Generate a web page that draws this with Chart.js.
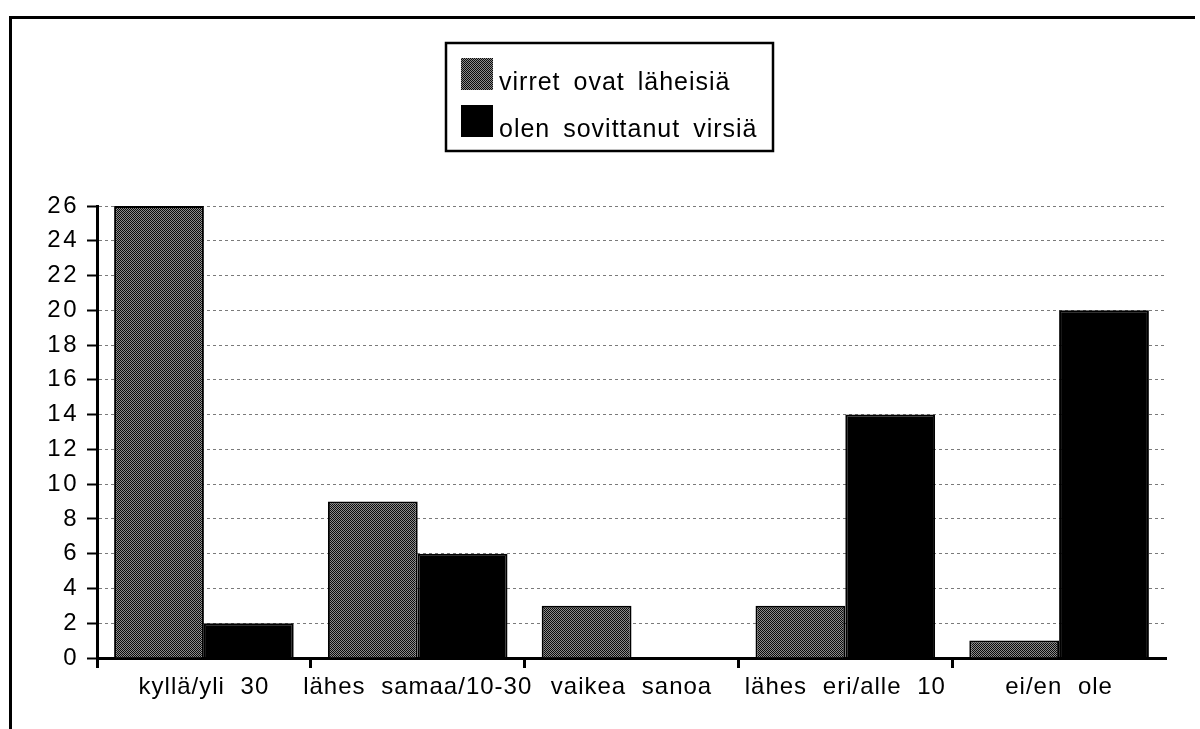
<!DOCTYPE html>
<html>
<head>
<meta charset="utf-8">
<title>virret</title>
<script src="https://cdn.jsdelivr.net/npm/chart.js@4.4.1/dist/chart.umd.min.js"></script>
<style>
  html, body { margin: 0; padding: 0; background: #fff; }
  #wrap { position: relative; width: 1200px; height: 729px; overflow: hidden; }
  #frame { position: absolute; left: 9px; top: 16px; width: 1183px; height: 720px;
           border-top: 3px solid #000; border-left: 3px solid #000; }
  #chart { position: absolute; left: 0; top: 0; }
</style>
</head>
<body>
<div id="wrap">
  <div id="frame"></div>
  <canvas id="chart" width="1200" height="729"></canvas>
</div>
<script>
// Data
const categories = ['kyllä/yli 30', 'lähes samaa/10-30', 'vaikea sanoa', 'lähes eri/alle 10', 'ei/en ole'];
const seriesNames = ['virret ovat läheisiä', 'olen sovittanut virsiä'];
const closeValues = [26, 9, 3, 3, 1];
const arrangedValues = [2, 6, 0, 14, 20];
const yTicks = [0, 2, 4, 6, 8, 10, 12, 14, 16, 18, 20, 22, 24, 26];

const FONT = '"Liberation Sans", Arial, Helvetica, sans-serif';

// old printer style dithered gray
function ditherPattern() {
    const c = document.createElement('canvas');
    c.width = 2; c.height = 2;
    const g = c.getContext('2d');
    g.fillStyle = '#8c8c8c';
    g.fillRect(0, 0, 2, 2);
    g.fillStyle = '#0a0a0a';
    g.fillRect(0, 0, 1, 1);
    g.fillRect(1, 1, 1, 1);
    return g.createPattern(c, 'repeat');
}

// draw scale labels with a bit of tracking like the original
function spaceLabels(scale, letter, word) {
    if (scale._spaced) return;
    const orig = scale.drawLabels;
    scale.drawLabels = function(area) {
        this.ctx.save();
        this.ctx.letterSpacing = letter;
        this.ctx.wordSpacing = word;
        orig.call(this, area);
        this.ctx.restore();
    };
    scale._spaced = true;
}

const spacing = {
    id: 'spacing',
    beforeDraw(chart) {
        spaceLabels(chart.scales.y, '2.5px', '0px');
        spaceLabels(chart.scales.x, '1px', '8px');
    }
};

// boxed legend, two rows
const legendBox = {
    id: 'legendBox',
    afterDraw(chart) {
        const ctx = chart.ctx;
        ctx.save();
        ctx.lineWidth = 2.5;
        ctx.strokeStyle = '#000';
        ctx.strokeRect(446, 43, 327, 108);
        ctx.font = '25px ' + FONT;
        ctx.letterSpacing = '1px';
        ctx.wordSpacing = '5px';
        ctx.textBaseline = 'alphabetic';
        chart.data.datasets.forEach((ds, i) => {
            const y = 58 + i * 47;
            ctx.fillStyle = ds.backgroundColor;
            ctx.fillRect(461, y, 32, 32);
            ctx.fillStyle = '#000';
            ctx.fillText(ds.label, 499, y + 32);
        });
        ctx.restore();
    }
};

const gray = ditherPattern();

new Chart(document.getElementById('chart'), {
    type: 'bar',
    data: {
        labels: categories,
        datasets: [{
            label: seriesNames[0],
            data: closeValues,
            backgroundColor: gray,
            borderColor: '#000',
            borderWidth: 2
        }, {
            label: seriesNames[1],
            data: arrangedValues,
            backgroundColor: '#000',
            borderColor: '#000',
            borderWidth: 2
        }]
    },
    options: {
        responsive: false,
        animation: false,
        devicePixelRatio: 1,
        categoryPercentage: 0.84,
        barPercentage: 1,
        layout: { padding: { top: 206, right: 34, bottom: 0, left: 0 } },
        plugins: {
            legend: { display: false },
            tooltip: { enabled: false }
        },
        scales: {
            x: {
                afterFit(scale) { scale.height = 71; },
                grid: {
                    drawOnChartArea: false,
                    tickLength: 10,
                    tickWidth: 3,
                    tickColor: c => (c.index === undefined ? 'rgba(0,0,0,0)' : '#000')
                },
                border: { color: '#000', width: 3 },
                ticks: {
                    color: '#000',
                    font: { family: FONT, size: 24 },
                    padding: 5,
                    maxRotation: 0,
                    autoSkip: false
                }
            },
            y: {
                min: 0,
                max: 26,
                afterFit(scale) { scale.width = 97; },
                afterBuildTicks(scale) { scale.ticks = yTicks.map(v => ({ value: v })); },
                grid: {
                    color: '#7a7a7a',
                    lineWidth: 1,
                    tickLength: 10,
                    tickWidth: 2,
                    tickColor: '#000',
                    tickBorderDash: []
                },
                border: { color: '#000', width: 3, dash: [3, 3] },
                ticks: {
                    color: '#000',
                    font: { family: FONT, size: 24 },
                    padding: 8
                }
            }
        }
    },
    plugins: [spacing, legendBox]
});
</script>
</body>
</html>
